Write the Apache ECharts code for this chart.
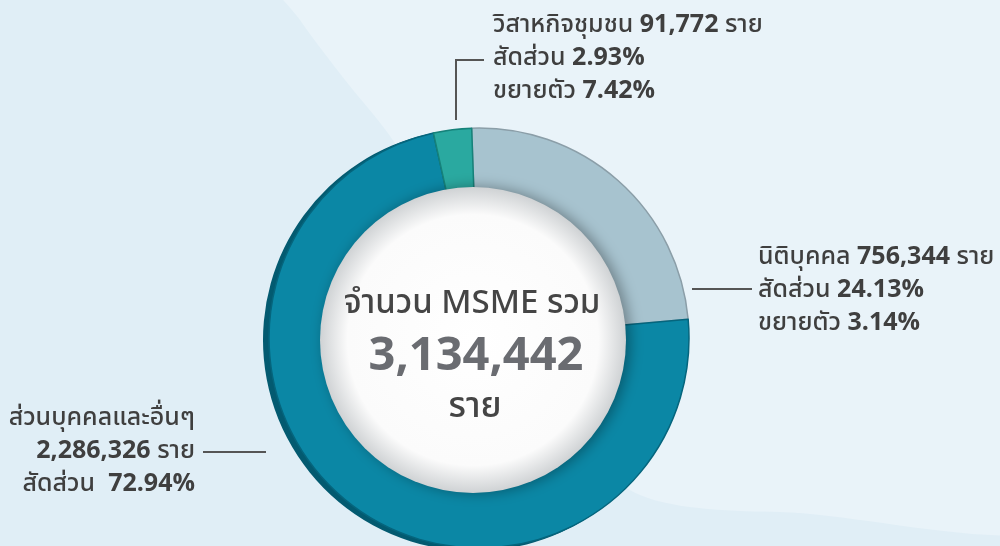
<!DOCTYPE html>
<html>
<head>
<meta charset="utf-8">
<script src="https://cdn.jsdelivr.net/npm/echarts@6/dist/echarts.min.js"></script>
<style>
  html, body { margin: 0; padding: 0; }
  #chart { width: 1000px; height: 546px; }
</style>
</head>
<body>
<div id="chart"></div>
<script>
// values
const names = ['นิติบุคคล', 'ส่วนบุคคลและอื่นๆ', 'วิสาหกิจชุมชน'];
const counts = [756344, 2286326, 91772];
const shares = ['24.13%', '72.94%', '2.93%'];
const growth = ['3.14%', null, '7.42%'];
const total = 3134442;

const colors = ['#a7c3cf', '#0b87a5', '#2aa9a0'];
const edgeColors = ['#8b9ea8', '#05657d', '#16827a'];
const backColors = ['#8fa6b1', '#035a70', '#137a72'];

const FONT = '"Noto Sans Thai", "Noto Sans", sans-serif';
const fmt = n => n.toLocaleString('en-US');

function labelText(i) {
  if (i === 1) {
    return '{t|' + names[i] + '}\n{b|' + fmt(counts[i]) + '}{t| ราย}\n{t|สัดส่วน  }{b|' + shares[i] + '}';
  }
  return '{t|' + names[i] + ' }{b|' + fmt(counts[i]) + '}{t| ราย}\n' +
    '{t|สัดส่วน }{b|' + shares[i] + '}\n{t|ขยายตัว }{b|' + growth[i] + '}';
}

// where each label sits and how its leader line runs
const labelPlaces = [
  { x: 758, y: 292, align: 'left', line: [[692, 289], [722, 289], [752, 289]] },
  { x: 195, y: 453, align: 'right', line: [[266, 452], [235, 452], [203, 452]] },
  { x: 493, y: 60, align: 'left', line: [[456, 120], [456, 60], [484, 60]] }
];

const chart = echarts.init(document.getElementById('chart'));

const pieData = names.map((n, i) => ({
  name: n,
  value: counts[i],
  itemStyle: { color: colors[i], borderColor: edgeColors[i], borderWidth: 1.5 }
}));
const backData = names.map((n, i) => ({
  name: n,
  value: counts[i],
  itemStyle: { color: backColors[i] }
}));

chart.setOption({
  backgroundColor: '#e0eef6',
  animation: false,
  graphic: [
    {
      // lighter sweep behind the top right of the picture
      type: 'polygon', z: 0, silent: true,
      shape: {
        points: [[262, -40], [300, 20], [345, 80], [390, 136], [470, 260], [560, 420], [640, 495], [780, 512], [1100, 505], [1100, -100]],
        smooth: 0.3
      },
      style: { fill: '#e9f3f9' }
    },
    {
      type: 'circle', z: 10, silent: true,
      shape: { cx: 473, cy: 340, r: 153 },
      style: {
        fill: {
          type: 'radial', x: 0.5, y: 0.5, r: 0.5,
          colorStops: [
            { offset: 0, color: '#ffffff' },
            { offset: 0.82, color: '#fbfbfb' },
            { offset: 1, color: '#cfd2d4' }
          ]
        },
        shadowBlur: 14, shadowOffsetX: 4, shadowColor: 'rgba(0,0,0,0.35)'
      }
    },
    {
      type: 'text', z: 11, silent: true, x: 472, y: 306,
      style: { text: 'จำนวน MSME รวม', font: '500 33px ' + FONT, fill: '#454545', align: 'center', verticalAlign: 'middle' }
    },
    {
      type: 'text', z: 11, silent: true, x: 476, y: 360,
      style: { text: fmt(total), font: 'bold 47px ' + FONT, fill: '#6a6c71', align: 'center', verticalAlign: 'middle' }
    },
    {
      type: 'text', z: 11, silent: true, x: 475, y: 410,
      style: { text: 'ราย', font: '500 35px ' + FONT, fill: '#454545', align: 'center', verticalAlign: 'middle' }
    }
  ],
  series: [
    {
      type: 'pie', silent: true, z: 1,
      center: [474, 340], radius: [140, 211],
      startAngle: 92, clockwise: true,
      label: { show: false }, labelLine: { show: false },
      data: backData
    },
    {
      type: 'pie', silent: true, z: 2,
      center: [479, 338], radius: [140, 210],
      startAngle: 92, clockwise: true,
      data: pieData,
      label: {
        show: true,
        formatter: p => labelText(p.dataIndex),
        lineHeight: 33,
        rich: {
          t: { fontFamily: FONT, fontSize: 25, fontWeight: 500, color: '#3f3f3f', lineHeight: 33 },
          b: { fontFamily: FONT, fontSize: 25, fontWeight: 'bold', color: '#3f3f3f', lineHeight: 33 }
        }
      },
      labelLine: { show: true, lineStyle: { color: '#555555', width: 2 } },
      labelLayout: p => {
        const lp = labelPlaces[p.dataIndex];
        return { x: lp.x, y: lp.y, align: lp.align, verticalAlign: 'middle', labelLinePoints: lp.line };
      }
    }
  ]
});
</script>
</body>
</html>
